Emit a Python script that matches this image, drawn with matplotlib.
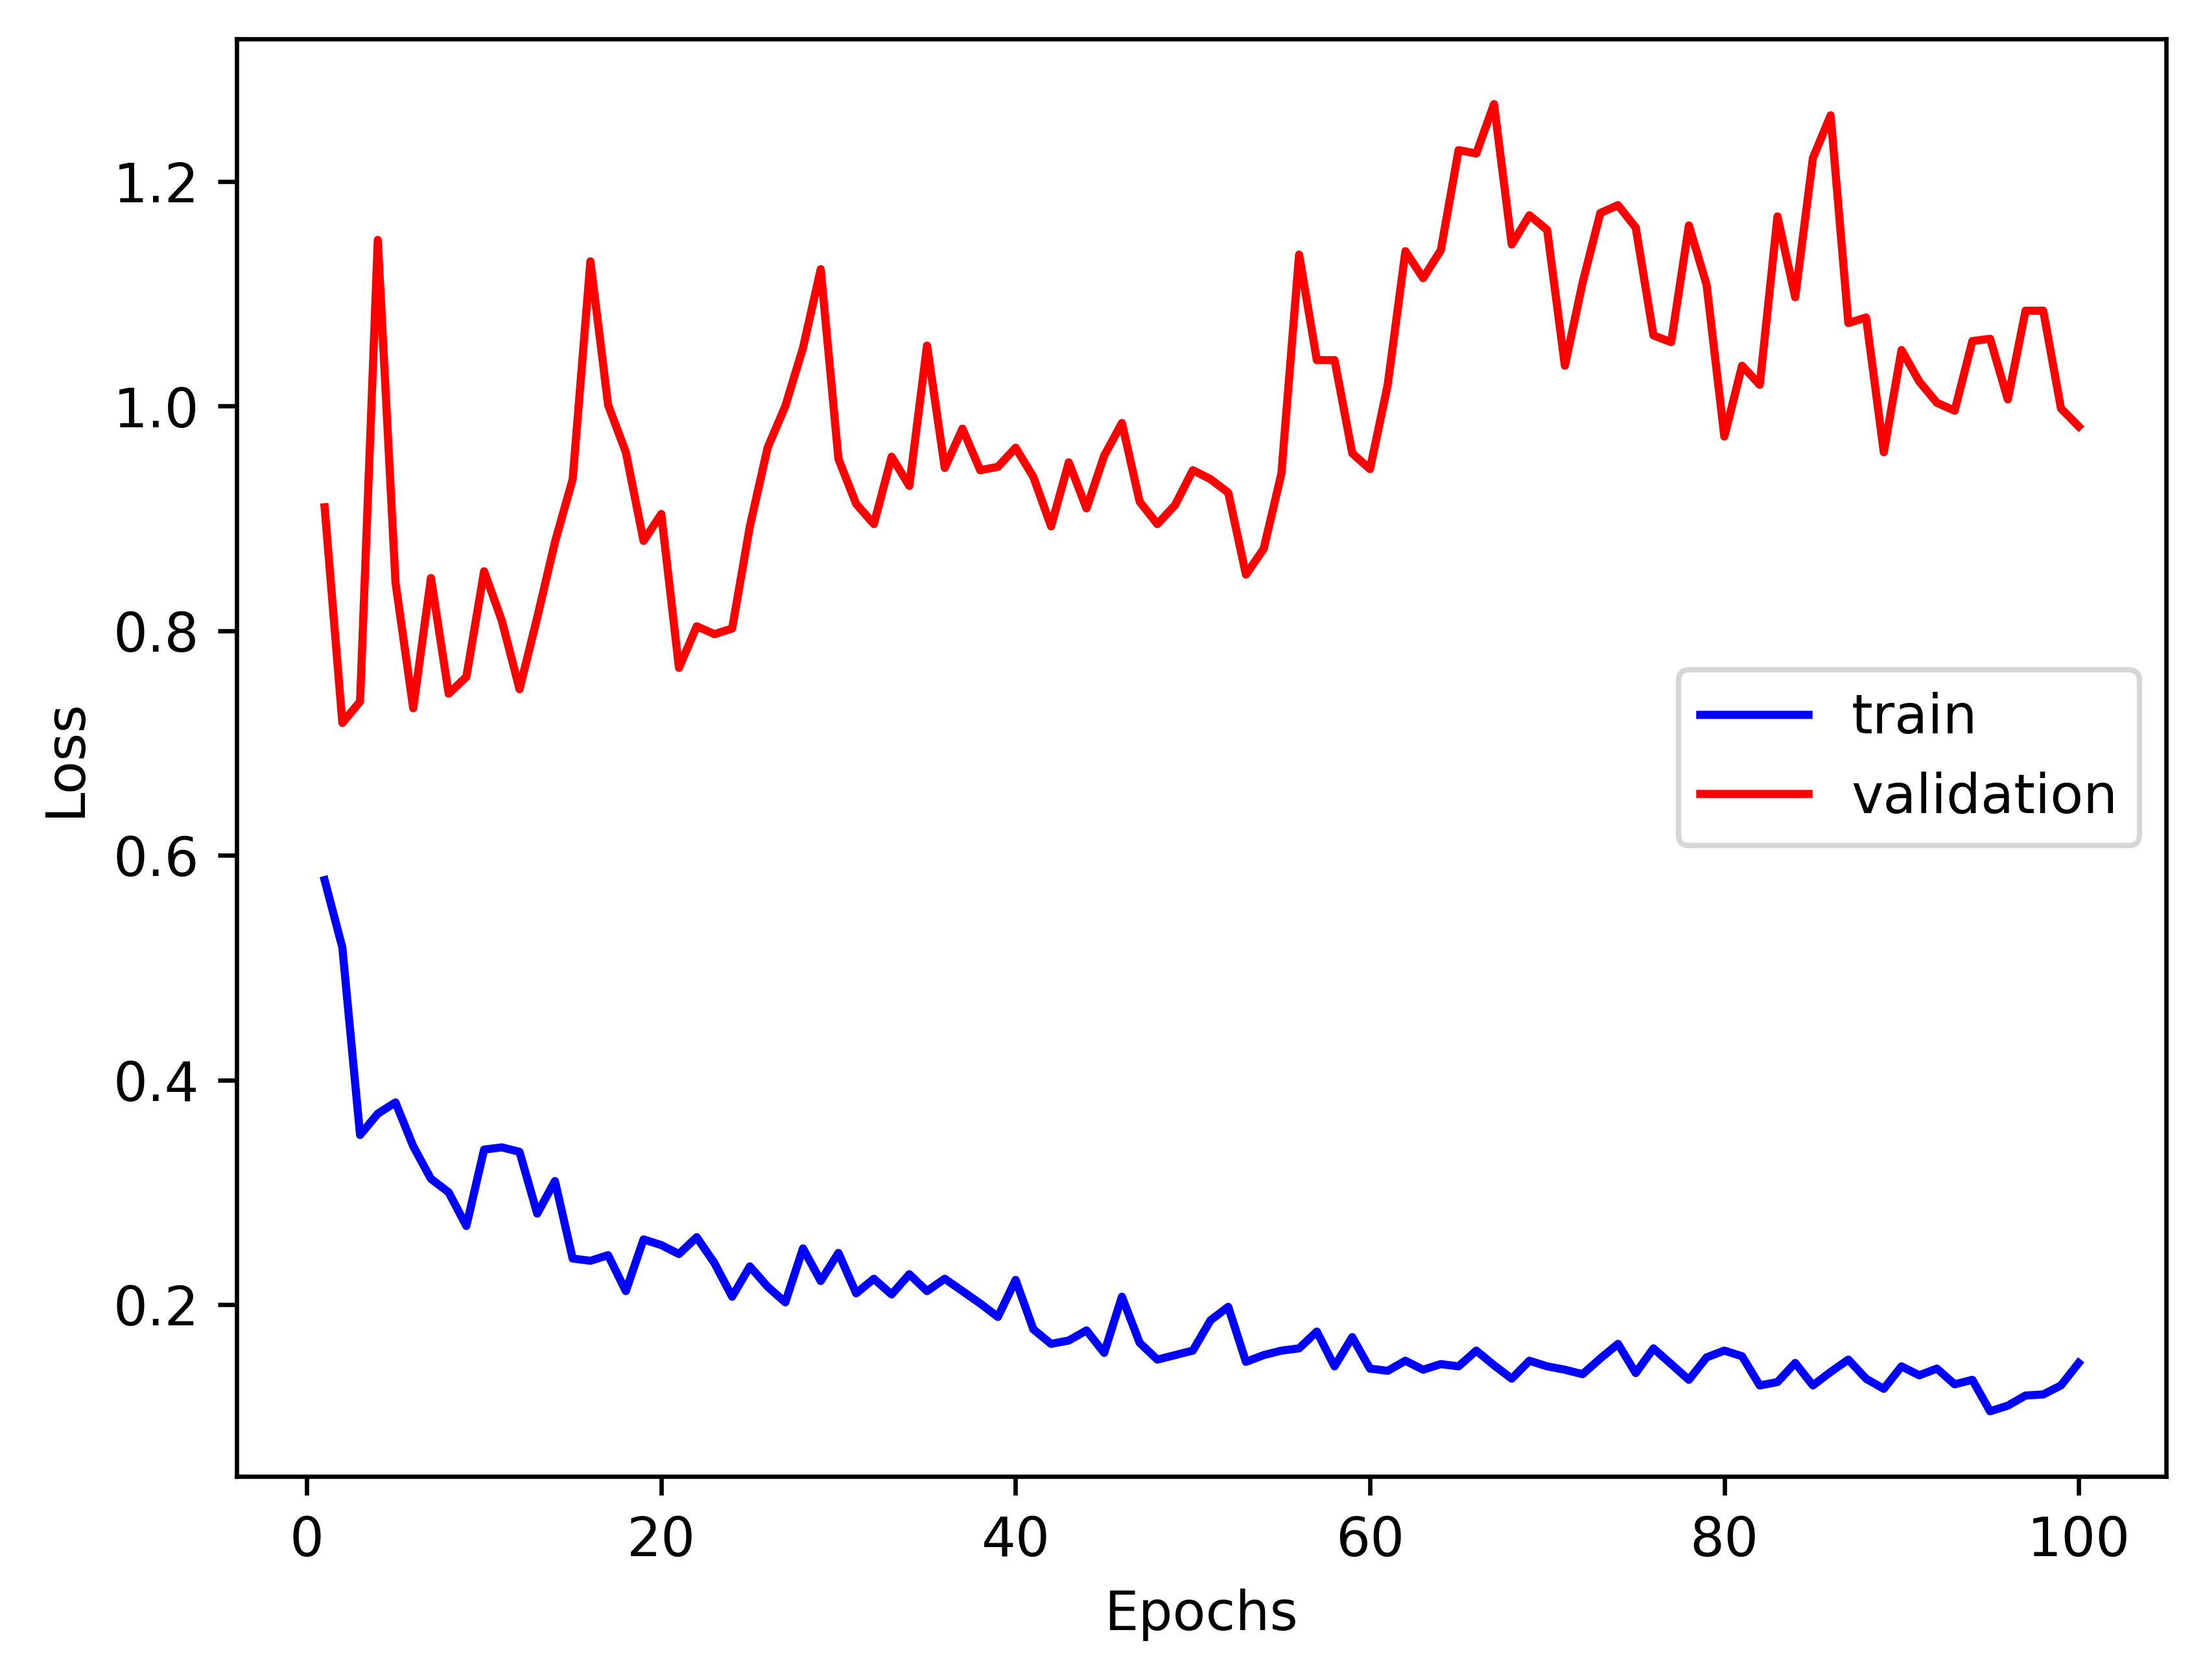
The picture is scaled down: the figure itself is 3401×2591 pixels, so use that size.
import matplotlib
matplotlib.use("Agg")
import matplotlib.pyplot as plt

# loss values read per epoch (1..100)
epochs = list(range(1, 101))

train_loss = [
    0.578, 0.518, 0.351, 0.370, 0.380, 0.341, 0.312, 0.300, 0.270, 0.338,
    0.340, 0.336, 0.281, 0.310, 0.241, 0.239, 0.244, 0.212, 0.258, 0.253,
    0.245, 0.260, 0.237, 0.207, 0.234, 0.216, 0.202, 0.250, 0.221, 0.246,
    0.210, 0.223, 0.209, 0.227, 0.212, 0.223, 0.212, 0.201, 0.189, 0.222,
    0.178, 0.165, 0.168, 0.177, 0.157, 0.207, 0.166, 0.151, 0.155, 0.159,
    0.186, 0.198, 0.149, 0.155, 0.159, 0.161, 0.176, 0.145, 0.171, 0.143,
    0.141, 0.150, 0.142, 0.147, 0.145, 0.159, 0.146, 0.134, 0.150, 0.145,
    0.142, 0.138, 0.152, 0.165, 0.139, 0.161, 0.147, 0.133, 0.153, 0.159,
    0.154, 0.128, 0.131, 0.148, 0.128, 0.140, 0.151, 0.134, 0.125, 0.145,
    0.137, 0.143, 0.129, 0.133, 0.105, 0.110, 0.119, 0.120, 0.128, 0.148,
]

val_loss = [
    0.910, 0.718, 0.737, 1.148, 0.843, 0.731, 0.847, 0.744, 0.759, 0.853,
    0.809, 0.748, 0.812, 0.879, 0.935, 1.129, 1.001, 0.959, 0.880, 0.904,
    0.767, 0.804, 0.797, 0.802, 0.893, 0.963, 1.000, 1.052, 1.122, 0.953,
    0.913, 0.895, 0.955, 0.929, 1.054, 0.945, 0.980, 0.943, 0.946, 0.963,
    0.937, 0.893, 0.950, 0.909, 0.956, 0.985, 0.915, 0.895, 0.912, 0.943,
    0.935, 0.923, 0.850, 0.873, 0.940, 1.135, 1.041, 1.041, 0.958, 0.944,
    1.019, 1.138, 1.114, 1.139, 1.228, 1.225, 1.269, 1.144, 1.170, 1.157,
    1.036, 1.110, 1.172, 1.179, 1.159, 1.063, 1.057, 1.161, 1.108, 0.973,
    1.036, 1.019, 1.169, 1.097, 1.221, 1.259, 1.074, 1.079, 0.959, 1.050,
    1.022, 1.003, 0.996, 1.058, 1.060, 1.006, 1.085, 1.085, 0.998, 0.982,
]

fig, ax = plt.subplots()
ax.plot(epochs, train_loss, color="b", label="train")
ax.plot(epochs, val_loss, color="r", label="validation")
ax.set_xlabel("Epochs")
ax.set_ylabel("Loss")
ax.legend(loc="center right")

plt.savefig("out.png", dpi=600, bbox_inches="tight")
